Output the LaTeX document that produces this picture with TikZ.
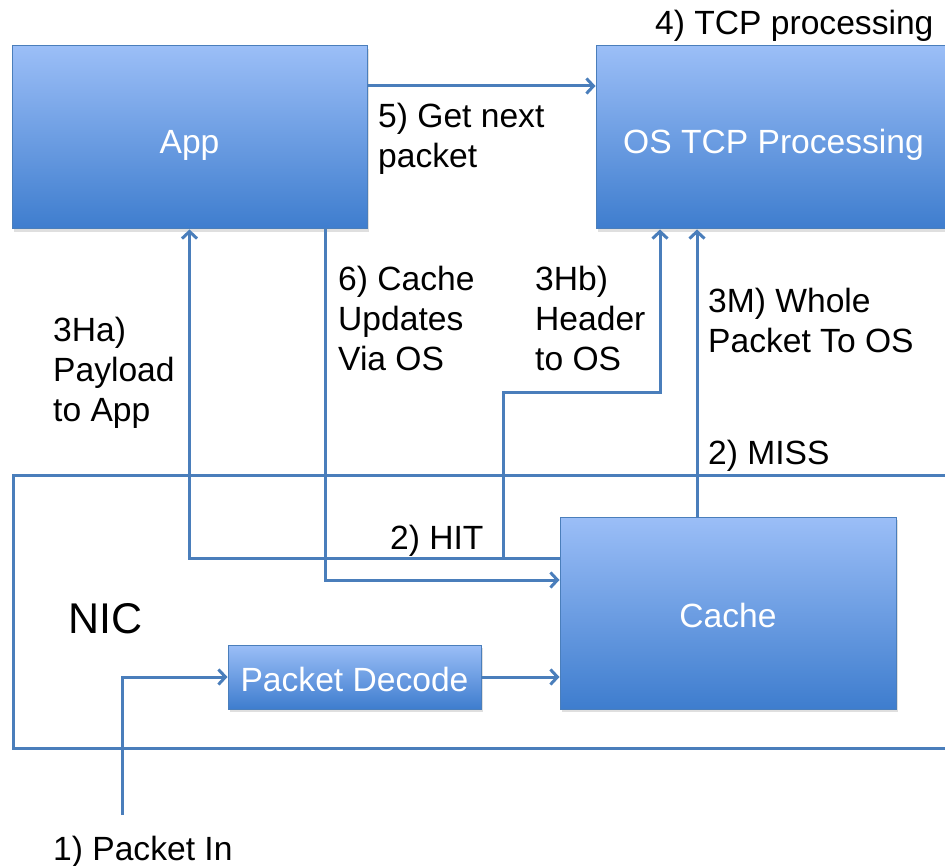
\documentclass[tikz,border=0pt]{standalone}
\usepackage{fontspec}
\setmainfont{Liberation Sans}
\usetikzlibrary{arrows.meta,shadows}
\definecolor{boxtop}{RGB}{155,190,247}
\definecolor{boxbot}{RGB}{62,125,206}
\definecolor{edge}{RGB}{74,126,187}
\begin{document}
\begin{tikzpicture}[x=1pt,y=-1pt,
  box/.style={draw=edge,line width=1pt,top color=boxtop,bottom color=boxbot,
    text=white,font=\fontsize{33.6}{40}\selectfont,inner sep=0pt,
    text height=28pt,text depth=0pt,
    drop shadow={opacity=0.25,shadow xshift=2pt,shadow yshift=-3pt}},
  wire/.style={draw=edge,line width=3pt},
  flow/.style={wire,-{Straight Barb[length=7pt,width=15pt]}},
  lbl/.style={inner sep=0pt,align=left,anchor=north west,font=\fontsize{33.6}{40}\selectfont}]
  \useasboundingbox (0,0) rectangle (945,866);
  % the card
  \node[wire,minimum width=948pt,minimum height=273pt,inner sep=0pt] (nic) at (487,611.5) {};
  \node[font=\fontsize{43}{50}\selectfont,anchor=base west,inner sep=0pt] (nicname) at (68,633) {NIC};
  % blocks
  \node[box,text height=33pt,minimum width=355pt,minimum height=183pt] (app) at (189.5,137.5) {App};
  \node[box,text height=33pt,minimum width=355pt,minimum height=183pt] (os) at (773.5,137.5) {OS TCP Processing};
  \node[box,minimum width=336pt,minimum height=192pt] (cache) at (728,613) {Cache};
  \node[box,minimum width=253pt,minimum height=64pt] (decode) at (354.5,677) {Packet Decode};
  \coordinate (hit) at (503,558);
  \coordinate (in) at (122,815);
  % paths
  \draw[flow] (app.east |- 0,86) -- (os.west |- 0,86);
  \draw[flow] (cache.west |- 0,558) -| (app.south);
  \draw[flow] (hit) |- (660,393) -- (os.south -| 660,0);
  \draw[flow] (cache.north -| 697,0) -- (os.south -| 697,0);
  \draw[flow] (app.south -| 325,0) |- (cache.west |- 0,580);
  \draw[flow] (decode.east) -- (decode.east -| cache.west);
  \draw[flow] (in) |- (decode.west);
  % step labels
  \node[lbl] (l4) at (655,9.5) {4) TCP processing};
  \node[lbl] (l5) at (378,103) {5) Get next\\packet};
  \node[lbl] (l6) at (338,266) {6) Cache\\Updates\\Via OS};
  \node[lbl] (l3hb) at (535,266) {3Hb)\\Header\\to OS};
  \node[lbl] (l3m) at (708,288) {3M) Whole\\Packet To OS};
  \node[lbl] (l3ha) at (53,317) {3Ha)\\Payload\\to App};
  \node[lbl] (lmiss) at (708,440) {2) MISS};
  \node[lbl] (lhit) at (390,525) {2) HIT};
  \node[lbl] (lin) at (53,836) {1) Packet In};
\end{tikzpicture}
\end{document}
